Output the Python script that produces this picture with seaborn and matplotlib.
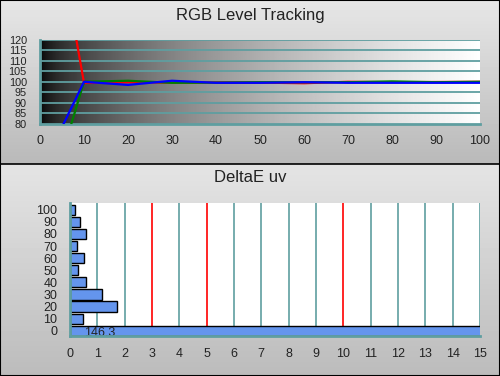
import numpy as np
import pandas as pd
import matplotlib
matplotlib.use('Agg')
import matplotlib.pyplot as plt
import seaborn as sns

# RGB level tracking data (stimulus % vs. channel level)
levels = [5, 10, 20, 30, 40, 50, 60, 70, 80, 90, 100]
red = [159, 99.5, 99.8, 99.6, 99.7, 99.6, 99.3, 100, 99.8, 99.9, 100]
green = [65, 100, 100.5, 99.5, 99.6, 99.8, 99.8, 99.8, 100.2, 99.8, 100]
blue = [78.3, 100, 98.5, 100.5, 99.5, 99.5, 99.8, 99.5, 99.5, 99.5, 99.5]

# DeltaE uv per grey level
grey_levels = ['100', '90', '80', '70', '60', '50', '40', '30', '20', '10', '0']
delta_e = [0.2, 0.37, 0.6, 0.27, 0.52, 0.3, 0.6, 1.18, 1.73, 0.49, 146.3]

teal = '#5f9ea0'
sns.set_theme(style='white')
plt.rcParams['font.family'] = ['Liberation Sans', 'DejaVu Sans']
plt.rcParams['text.color'] = '#222222'

fig = plt.figure(figsize=(5, 3.76), dpi=100)

# panel backgrounds (grey gradients) + border
bg = fig.add_axes([0, 0, 1, 1], zorder=-10)
rows = np.arange(376)
shade = np.where(rows < 164, 0.905 - 0.18 * rows / 164, 0.895 - 0.16 * (rows - 164) / 212)
bg.imshow(shade[:, None], cmap='gray', vmin=0, vmax=1, aspect='auto', extent=[0, 1, 0, 1])
bg.axhline(1 - 163.5 / 376, color='black', lw=1.2)
for s in bg.spines.values():
    s.set_visible(True)
    s.set_color('black')
    s.set_linewidth(1.5)
bg.set_xticks([])
bg.set_yticks([])

fig.text(0.5, 0.958, 'RGB Level Tracking', ha='center', va='center', fontsize=12)
fig.text(0.5, 0.529, 'DeltaE uv', ha='center', va='center', fontsize=12)

# ---- top chart ----
ax1 = fig.add_axes([0.08, 0.6715, 0.88, 0.222])
grad = (np.linspace(0, 1, 400) ** 0.55)[None, :]
ax1.imshow(grad, cmap='gray', vmin=0, vmax=1, aspect='auto', extent=[0, 100, 80, 120], zorder=0)
for yv in range(85, 121, 5):
    ax1.axhline(yv, color=teal, lw=1.3, zorder=1)

rgb_df = pd.DataFrame({
    'level': levels * 3,
    'value': red + green + blue,
    'channel': ['Red'] * len(levels) + ['Green'] * len(levels) + ['Blue'] * len(levels),
})
sns.lineplot(data=rgb_df, x='level', y='value', hue='channel',
             palette={'Red': '#ff0000', 'Green': '#008000', 'Blue': '#0000ff'},
             linewidth=1.6, legend=False, ax=ax1, zorder=3)
ax1.set_xlim(0, 100)
ax1.set_ylim(80, 120)
ax1.set_xticks(range(0, 101, 10))
ax1.set_yticks(range(80, 121, 5))
ax1.set_xlabel('')
ax1.set_ylabel('')
for side in ['top', 'right']:
    ax1.spines[side].set_visible(False)
for side in ['left', 'bottom']:
    ax1.spines[side].set_color(teal)
    ax1.spines[side].set_linewidth(2)
ax1.tick_params(axis='both', direction='inout', length=5, width=1.5, color=teal,
                labelcolor='#222222', pad=6)
ax1.tick_params(axis='x', labelsize=9)
ax1.tick_params(axis='y', labelsize=7.8, pad=7)

# ---- bottom chart ----
ax2 = fig.add_axes([0.14, 0.1064, 0.82, 0.3537])
ax2.set_facecolor('white')
for xv in range(1, 16):
    c = '#ff0000' if xv in (3, 5, 10) else teal
    ax2.axvline(xv, color=c, lw=1.2, zorder=0)

de_df = pd.DataFrame({'level': grey_levels, 'delta': delta_e})
sns.barplot(data=de_df, x='delta', y='level', order=grey_levels, orient='h',
            color='#6495ed', saturation=1, edgecolor='black', linewidth=1,
            width=0.85, ax=ax2, zorder=2)
ax2.text(0.5, 10.2, f'{delta_e[-1]:.1f}', fontsize=9, va='center', ha='left', zorder=4)
ax2.set_xlim(0, 15)
ax2.set_ylim(10.43, -0.55)
ax2.set_xticks(range(0, 16))
ax2.set_xlabel('')
ax2.set_ylabel('')
ax2.set_yticks(np.arange(-0.5, 10.5, 1), minor=True)
for side in ['top', 'right']:
    ax2.spines[side].set_visible(False)
for side in ['left', 'bottom']:
    ax2.spines[side].set_color(teal)
    ax2.spines[side].set_linewidth(2)
    ax2.spines[side].set_zorder(5)
ax2.tick_params(axis='x', direction='inout', length=5, width=1.5, color=teal,
                labelsize=9, labelcolor='#222222', pad=6)
ax2.tick_params(axis='y', which='major', length=0, labelsize=9, labelcolor='#222222', pad=9)
ax2.tick_params(axis='y', which='minor', direction='inout', length=5, width=1.5, color=teal)

fig.savefig('out.png', dpi=100)
